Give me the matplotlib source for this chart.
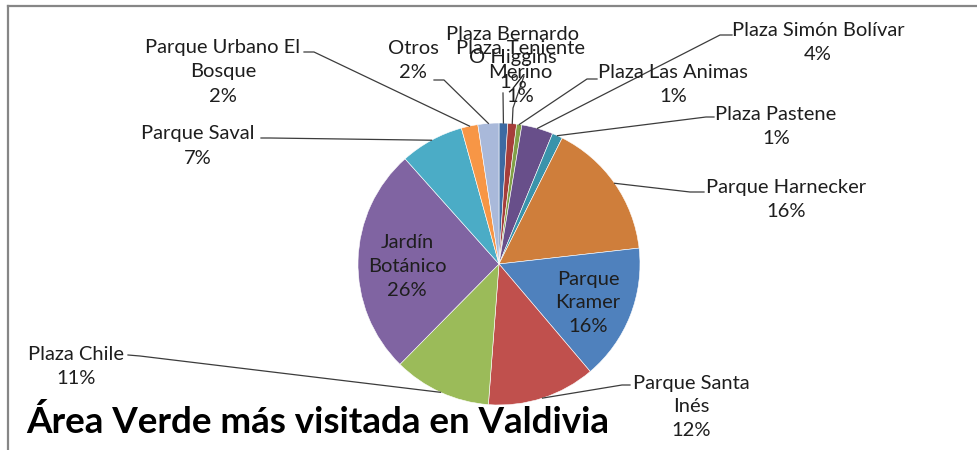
import numpy as np
import matplotlib
matplotlib.use("Agg")
import matplotlib.pyplot as plt
from matplotlib import font_manager
from matplotlib.lines import Line2D

names = ["Plaza Bernardo O Higgins", "Plaza Teniente Merino", "Plaza Las Animas",
         "Plaza Simón Bolívar", "Plaza Pastene", "Parque Harnecker", "Parque Kramer",
         "Parque Santa Inés", "Plaza Chile", "Jardín Botánico", "Parque Saval",
         "Parque Urbano El Bosque", "Otros"]
values = [1.0, 1.0, 0.6, 3.6, 1.2, 15.8, 15.6, 12.4, 11.2, 26.0, 7.3, 1.9, 2.4]
# label text as wrapped in the chart
label_text = ["Plaza Bernardo\nO Higgins", "Plaza Teniente\nMerino", "Plaza Las Animas",
              "Plaza Simón Bolívar", "Plaza Pastene", "Parque Harnecker", "Parque\nKramer",
              "Parque Santa\nInés", "Plaza Chile", "Jardín\nBotánico", "Parque Saval",
              "Parque Urbano El\nBosque", "Otros"]
colors = ["#3d6aa2", "#a63e3b", "#81a047", "#684f8a", "#3a93ab", "#cf7e3b", "#4f81bd",
          "#c0504d", "#9bbb59", "#8064a2", "#4bacc6", "#f79646", "#a9b9da"]

avail = {f.name for f in font_manager.fontManager.ttflist}
FONT = "Lato" if "Lato" in avail else "DejaVu Sans"

W, H = 978, 450
fig = plt.figure(figsize=(W / 100, H / 100), dpi=100)
ax = fig.add_axes([0, 0, 1, 1])

cx, cy, r = 499, 264, 141
wedges, _ = ax.pie(values, colors=colors, startangle=90, counterclock=False,
                   center=(cx, H - cy), radius=r,
                   wedgeprops=dict(edgecolor="white", linewidth=0.4))
ax.set_xlim(0, W)
ax.set_ylim(0, H)
ax.set_aspect("equal")
ax.axis("off")

# label centres (x, y from top) and leader points near the label
lab_pos = [(513, 58), (520, 72), (673, 85), (818, 43), (776, 126), (786, 200),
           (588, 303), (691, 407), (76, 366), (407, 267), (198, 146), (223, 72), (413, 61)]
leaders = [[(503, 93)], [(524, 76), (513, 108)], [(597, 79), (587, 79)],
           [(732, 35), (720, 35)], [(714, 117), (706, 117)], [(704, 192), (690, 192)],
           None, [(630, 385), (622, 385)], [(128, 355), (140, 356)], None,
           [(261, 138), (270, 138)], [(304, 52), (314, 52)], [(434, 80), (444, 80)]]

for i, w in enumerate(wedges):
    x, y = lab_pos[i]
    ax.text(x, H - y, f"{label_text[i]}\n{values[i]:.0f}%", ha="center", va="center",
            fontsize=14.5, family=FONT, color="#1e1e1e", linespacing=1.5)
    if leaders[i] is None:
        continue
    ang = np.deg2rad((w.theta1 + w.theta2) / 2)
    pts = [(px, H - py) for px, py in leaders[i]]
    pts.append((cx + r * np.cos(ang), H - cy + r * np.sin(ang)))
    xs, ys = zip(*pts)
    ax.plot(xs, ys, color="#3c3c3c", lw=0.9)

ax.text(318, H - 422, "Área Verde más visitada en Valdivia", ha="center", va="center",
        fontsize=26.5, fontweight="bold", family=FONT, color="black")

# chart-area border (only top and left edges visible)
fig.add_artist(Line2D([8 / W, 1], [1 - 6 / H, 1 - 6 / H], color="#868686", lw=1.6))
fig.add_artist(Line2D([8 / W, 8 / W], [1 - 6 / H, 0], color="#868686", lw=1.6))

fig.savefig("out.png", dpi=100)
